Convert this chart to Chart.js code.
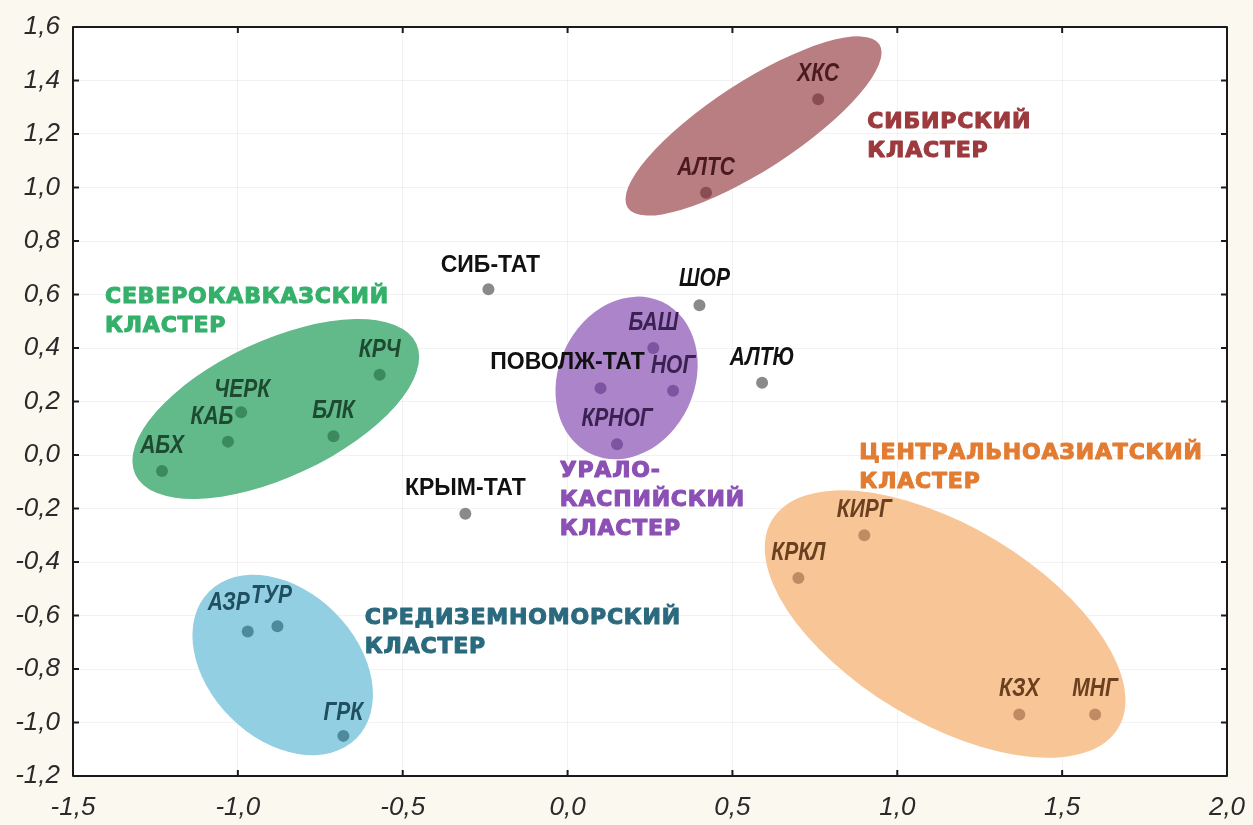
<!DOCTYPE html>
<html>
<head>
<meta charset="utf-8">
<script src="https://cdn.jsdelivr.net/npm/chart.js@4.4.1/dist/chart.umd.min.js"></script>
<style>
  html, body { margin: 0; padding: 0; background: #fbf9ef; }
  #wrap { width: 1253px; height: 825px; }
</style>
</head>
<body>
<div id="wrap"><canvas id="chart" width="1253" height="825"></canvas></div>
<script>
// cluster points
const kavkazNames = ['АБХ', 'КАБ', 'ЧЕРК', 'БЛК', 'КРЧ'];
const kavkazX = [-1.23, -1.03, -0.99, -0.71, -0.57];
const kavkazY = [-0.06, 0.05, 0.16, 0.07, 0.30];

const siberNames = ['АЛТС', 'ХКС'];
const siberX = [0.42, 0.76];
const siberY = [0.98, 1.33];

const uralNames = ['ПОВОЛЖ-ТАТ', 'БАШ', 'НОГ', 'КРНОГ'];
const uralX = [0.10, 0.26, 0.32, 0.15];
const uralY = [0.25, 0.40, 0.24, 0.04];

const medNames = ['АЗР', 'ТУР', 'ГРК'];
const medX = [-0.97, -0.88, -0.68];
const medY = [-0.66, -0.64, -1.05];

const asiaNames = ['КРКЛ', 'КИРГ', 'КЗХ', 'МНГ'];
const asiaX = [0.70, 0.90, 1.37, 1.60];
const asiaY = [-0.46, -0.30, -0.97, -0.97];

const otherNames = ['СИБ-ТАТ', 'КРЫМ-ТАТ', 'ШОР', 'АЛТЮ'];
const otherX = [-0.24, -0.31, 0.40, 0.59];
const otherY = [0.62, -0.22, 0.56, 0.27];

const xTickStep = 0.5;
const yTickStep = 0.2;

// cluster look: ellipse (center in data units, radii in px, angle in deg) + title
const clusters = [
  { names: kavkazNames, xs: kavkazX, ys: kavkazY, fill: '#62b98a', dot: '#3b8a5f', text: '#1d4a31',
    ell: { cx: -0.885, cy: 0.172, a: 155, b: 68, rot: -25 },
    title: ['СЕВЕРОКАВКАЗСКИЙ', 'КЛАСТЕР'], titleColor: '#35b06b', tx: -1.403, ty: 0.59 },
  { names: siberNames, xs: siberX, ys: siberY, fill: '#b97e82', dot: '#8a4d53', text: '#4a1a1e',
    ell: { cx: 0.564, cy: 1.230, a: 150, b: 44, rot: -33 },
    title: ['СИБИРСКИЙ', 'КЛАСТЕР'], titleColor: '#9c3a3e', tx: 0.909, ty: 1.245 },
  { names: uralNames, xs: uralX, ys: uralY, fill: '#ab84c9', dot: '#7c55a2', text: '#3b2052',
    ell: { cx: 0.179, cy: 0.288, a: 84, b: 68, rot: -65 },
    title: ['УРАЛО-', 'КАСПИЙСКИЙ', 'КЛАСТЕР'], titleColor: '#8c50b4', tx: -0.024, ty: -0.06 },
  { names: medNames, xs: medX, ys: medY, fill: '#93cfe2', dot: '#4d8a9c', text: '#1f4f60',
    ell: { cx: -0.864, cy: -0.785, a: 104, b: 74, rot: 45 },
    title: ['СРЕДИЗЕМНОМОРСКИЙ', 'КЛАСТЕР'], titleColor: '#2b6a7e', tx: -0.615, ty: -0.609 },
  { names: asiaNames, xs: asiaX, ys: asiaY, fill: '#f8c597', dot: '#c08b62', text: '#6a4020',
    ell: { cx: 1.145, cy: -0.632, a: 202, b: 98, rot: 31 },
    title: ['ЦЕНТРАЛЬНОАЗИАТСКИЙ', 'КЛАСТЕР'], titleColor: '#e27c32', tx: 0.885, ty: 0.005 },
  { names: otherNames, xs: otherX, ys: otherY, fill: null, dot: '#8a8a8a', text: '#111111' }
];

const uprightNames = ['СИБ-ТАТ', 'КРЫМ-ТАТ', 'ПОВОЛЖ-ТАТ'];
const labelShift = {
  'ПОВОЛЖ-ТАТ': [-33, -25], 'КАБ': [-16, -25], 'АЗР': [-19, -28], 'ТУР': [-6, -30],
  'ЧЕРК': [1, -22], 'ГРК': [0, -23], 'ШОР': [5, -26], 'СИБ-ТАТ': [2, -23]
};

const fmt = v => (Math.abs(v) < 1e-9 ? 0 : v).toFixed(1).replace('.', ',');
const tickFont = { family: '"Liberation Sans", Arial, sans-serif', size: 26, style: 'italic' };

const datasets = clusters.map(c => ({
  data: c.xs.map((x, i) => ({ x, y: c.ys[i], name: c.names[i] })),
  backgroundColor: c.dot,
  borderWidth: 0,
  pointRadius: 6,
  pointHoverRadius: 6
}));

const decor = {
  id: 'decor',
  beforeDraw(chart) {
    const { ctx, chartArea: a } = chart;
    ctx.save();
    ctx.fillStyle = '#ffffff';
    ctx.fillRect(a.left, a.top, a.right - a.left, a.bottom - a.top);
    ctx.restore();
  },
  beforeDatasetsDraw(chart) {
    const { ctx, chartArea: a, scales: { x, y } } = chart;
    ctx.save();
    ctx.beginPath();
    ctx.rect(a.left, a.top, a.right - a.left, a.bottom - a.top);
    ctx.clip();
    clusters.forEach(c => {
      if (!c.ell) return;
      const e = c.ell;
      ctx.beginPath();
      ctx.ellipse(x.getPixelForValue(e.cx), y.getPixelForValue(e.cy), e.a, e.b, e.rot * Math.PI / 180, 0, Math.PI * 2);
      ctx.fillStyle = c.fill;
      ctx.fill();
    });
    ctx.restore();
  },
  afterDatasetsDraw(chart) {
    const { ctx, chartArea: a, scales: { x, y } } = chart;
    ctx.save();
    ctx.textAlign = 'center';
    ctx.textBaseline = 'middle';
    // point labels
    clusters.forEach(c => {
      c.names.forEach((n, i) => {
        const s = labelShift[n] || [0, -25];
        const px = x.getPixelForValue(c.xs[i]) + s[0];
        const py = y.getPixelForValue(c.ys[i]) + s[1];
        if (uprightNames.includes(n)) {
          ctx.font = 'bold 23px "Liberation Sans", Arial, sans-serif';
          ctx.fillStyle = '#111111';
          ctx.fillText(n, px, py);
        } else {
          // narrow italic look: squeeze a bold italic sans horizontally
          ctx.save();
          ctx.translate(px, py);
          ctx.scale(0.84, 1);
          ctx.font = 'italic bold 25px "Liberation Sans", Arial, sans-serif';
          ctx.fillStyle = c.text;
          ctx.fillText(n, 0, 0);
          ctx.restore();
        }
      });
    });
    // cluster titles
    ctx.textAlign = 'left';
    ctx.font = 'bold 22px "DejaVu Sans", sans-serif';
    ctx.letterSpacing = '0.8px';
    ctx.lineWidth = 1.1;
    ctx.lineJoin = 'round';
    clusters.forEach(c => {
      if (!c.title) return;
      const lx = x.getPixelForValue(c.tx);
      const ly = y.getPixelForValue(c.ty);
      ctx.fillStyle = c.titleColor;
      ctx.strokeStyle = c.titleColor;
      c.title.forEach((t, k) => {
        ctx.fillText(t, lx, ly + k * 29);
        ctx.strokeText(t, lx, ly + k * 29);
      });
    });
    ctx.letterSpacing = '0px';
    // frame and inward ticks
    ctx.strokeStyle = '#1a1a1a';
    ctx.lineWidth = 2;
    ctx.strokeRect(a.left, a.top, a.right - a.left, a.bottom - a.top);
    ctx.beginPath();
    x.ticks.forEach(t => {
      const px = x.getPixelForValue(t.value);
      ctx.moveTo(px, a.bottom); ctx.lineTo(px, a.bottom - 6);
      ctx.moveTo(px, a.top); ctx.lineTo(px, a.top + 6);
    });
    y.ticks.forEach(t => {
      const py = y.getPixelForValue(t.value);
      ctx.moveTo(a.left, py); ctx.lineTo(a.left + 6, py);
      ctx.moveTo(a.right, py); ctx.lineTo(a.right - 6, py);
    });
    ctx.stroke();
    ctx.restore();
  }
};

new Chart(document.getElementById('chart'), {
  type: 'scatter',
  data: { datasets },
  options: {
    responsive: false,
    animation: false,
    layout: { padding: { top: 27, right: 26, left: 0, bottom: 0 } },
    plugins: { legend: { display: false }, tooltip: { enabled: false } },
    scales: {
      x: {
        type: 'linear', min: -1.5, max: 2.0,
        ticks: { stepSize: xTickStep, callback: fmt, font: tickFont, color: '#2a2a2a', padding: 16, maxRotation: 0 },
        grid: { color: 'rgba(0,0,0,0.05)', drawTicks: false },
        border: { display: false },
        afterFit: s => { s.height = 49; s.paddingLeft = 0; s.paddingRight = 0; }
      },
      y: {
        type: 'linear', min: -1.2, max: 1.6,
        ticks: { stepSize: yTickStep, callback: fmt, font: tickFont, color: '#2a2a2a', padding: 13 },
        grid: { color: 'rgba(0,0,0,0.05)', drawTicks: false },
        border: { display: false },
        afterFit: s => { s.width = 73; s.paddingTop = 0; s.paddingBottom = 0; }
      }
    }
  },
  plugins: [decor]
});
</script>
</body>
</html>
